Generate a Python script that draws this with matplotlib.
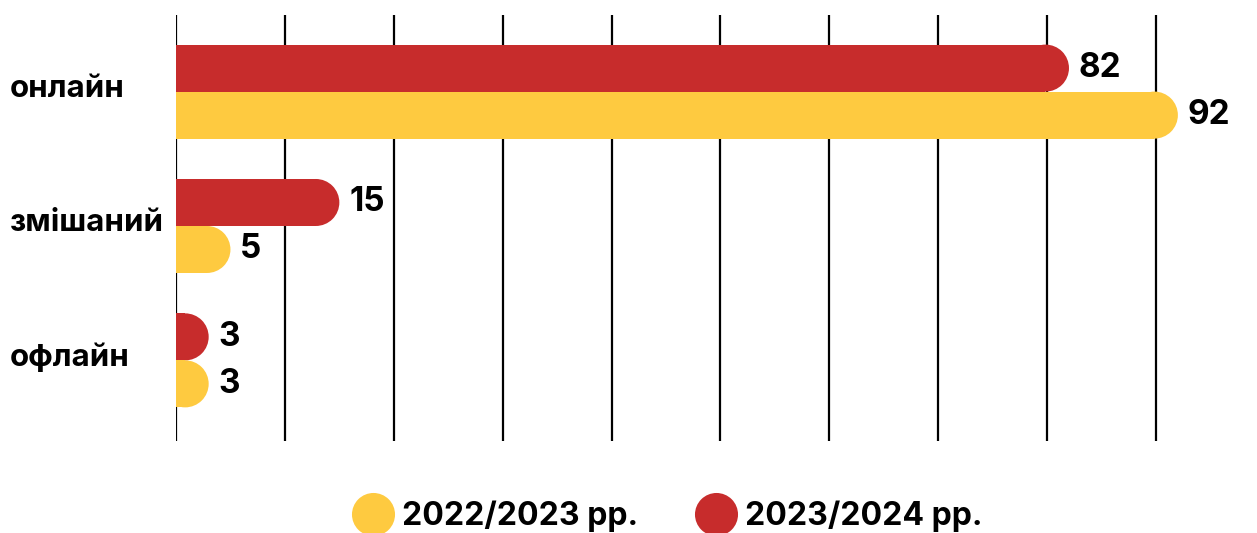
import matplotlib
matplotlib.use("Agg")
import matplotlib.pyplot as plt
from matplotlib.patches import Rectangle, Ellipse
from matplotlib.lines import Line2D
import matplotlib.transforms as mtransforms

plt.rcParams['font.family'] = ['Inter', 'DejaVu Sans']

categories = ['онлайн', 'змішаний', 'офлайн']
series_names = ['2022/2023 рр.', '2023/2024 рр.']
values_2022 = [92, 5, 3]
values_2023 = [82, 15, 3]
gridticks = [0, 10, 20, 30, 40, 50, 60, 70, 80, 90]

YELLOW = '#FECA40'
RED = '#C72C2C'

W, H = 1257, 533
fig = plt.figure(figsize=(W / 100, H / 100), dpi=100)
ax_left, ax_right = 176, 1257
ax_top, ax_bot = 15, 441
ax = fig.add_axes([ax_left / W, 1 - ax_bot / H, (ax_right - ax_left) / W, (ax_bot - ax_top) / H])

px_per_unit = 10.89
xmax = (ax_right - ax_left) / px_per_unit
ax.set_xlim(0, xmax)
ylo, yhi = 2.6, -0.57
ax.set_ylim(ylo, yhi)
px_per_yunit = (ax_bot - ax_top) / (ylo - yhi)

bar_h_px = 47
bh = bar_h_px / px_per_yunit
rx = (bar_h_px / 2) / px_per_unit

for g in gridticks:
    ax.axvline(g, color='black', lw=1.6, zorder=1)


def rounded_bar(y, v, color):
    body = max(v - rx, 0)
    ax.add_patch(Rectangle((0, y - bh / 2), body, bh, facecolor=color, edgecolor='none', zorder=2))
    ax.add_patch(Ellipse((body, y), 2 * rx, bh, facecolor=color, edgecolor='none', zorder=2))
    ax.annotate(str(v), xy=(v, y), xytext=(7, 0), textcoords='offset points',
                ha='left', va='center', fontsize=24, fontweight='bold', color='black', zorder=3)


trans = mtransforms.blended_transform_factory(fig.transFigure, ax.transData)
for i, cat in enumerate(categories):
    y_red = i - bh / 2
    y_yel = i + bh / 2
    rounded_bar(y_red, values_2023[i], RED)
    rounded_bar(y_yel, values_2022[i], YELLOW)
    ax.text(10 / W, i - 0.02, cat, transform=trans, ha='left', va='center',
            fontsize=22.5, fontweight='bold', color='black')

for s in ax.spines.values():
    s.set_visible(False)
ax.set_xticks([])
ax.set_yticks([])

handles = [Line2D([], [], marker='o', ls='none', markersize=31, markerfacecolor=YELLOW, markeredgecolor='none'),
           Line2D([], [], marker='o', ls='none', markersize=31, markerfacecolor=RED, markeredgecolor='none')]
leg = fig.legend(handles, series_names, loc='center', bbox_to_anchor=(0.531, 1 - 516 / H), ncol=2,
                 frameon=False, prop={'size': 23, 'weight': 'bold'}, handletextpad=0.25,
                 columnspacing=1.8, handlelength=1.3)

fig.savefig('out.png', dpi=100)
